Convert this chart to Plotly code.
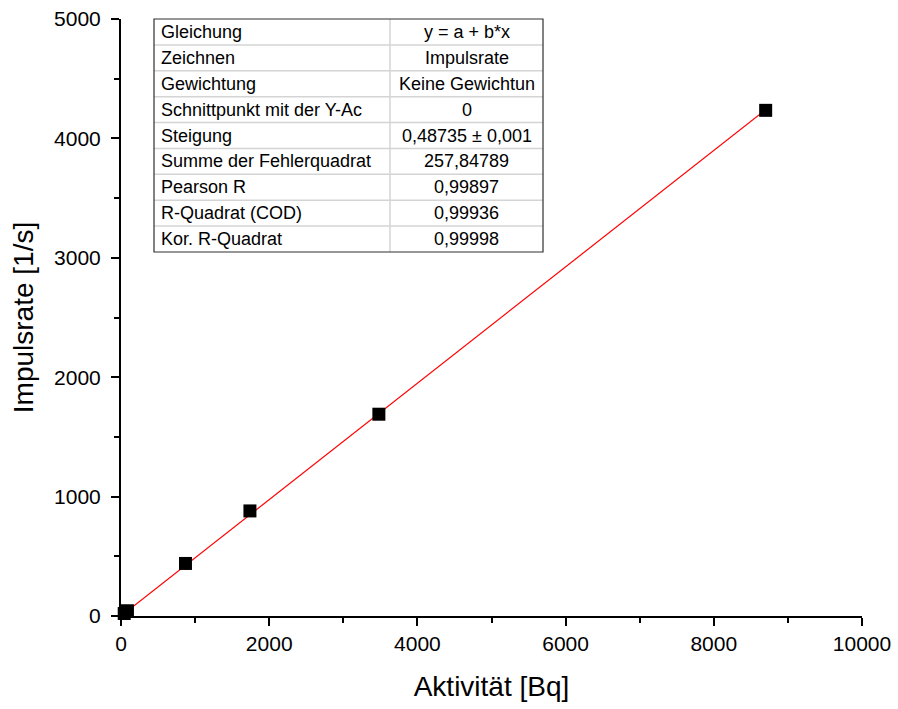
import plotly.graph_objects as go

# Data
activity = [43.5, 87, 870, 1740, 3480, 8700]          # Aktivität [Bq]
rate = [21, 44, 440, 880, 1690, 4235]                  # Impulsrate [1/s]
slope = 0.48735
fit_x = [0, 8700]
fit_y = [slope * v for v in fit_x]

table_labels = ["Gleichung", "Zeichnen", "Gewichtung", "Schnittpunkt mit der Y-Ac",
                "Steigung", "Summe der Fehlerquadrat", "Pearson R",
                "R-Quadrat (COD)", "Kor. R-Quadrat"]
table_values = ["y = a + b*x", "Impulsrate", "Keine Gewichtun", "0",
                "0,48735 ± 0,001", "257,84789", "0,99897", "0,99936", "0,99998"]

FONT = "Liberation Sans, Arial, sans-serif"

# Plot-area geometry (pixels) used to place the table in paper coordinates
L, R, T, B = 121, 862, 19, 616
W, H = R - L, B - T


def px(xp):
    return (xp - L) / W


def py(yp):
    return (B - yp) / H


fig = go.Figure()

fig.add_trace(go.Scatter(x=fit_x, y=fit_y, mode="lines",
                         line=dict(color="#ff0000", width=1.2),
                         showlegend=False, cliponaxis=False))
fig.add_trace(go.Scatter(x=activity, y=rate, mode="markers",
                         marker=dict(symbol="square", size=13, color="black",
                                     line=dict(width=0)),
                         showlegend=False, cliponaxis=False))

# Table (drawn with shapes and annotations)
tx0, tx1, tdiv = 154, 543, 390
ty0, ty1 = 19, 252
n = len(table_labels)
rh = (ty1 - ty0) / n
shapes = []
annotations = []
shapes.append(dict(type="rect", xref="paper", yref="paper",
                   x0=px(tx0), x1=px(tx1), y0=py(ty1), y1=py(ty0),
                   fillcolor="white", line=dict(width=0), layer="below"))
for i in range(1, n):
    yy = py(ty0 + i * rh)
    shapes.append(dict(type="line", xref="paper", yref="paper",
                       x0=px(tx0), x1=px(tx1), y0=yy, y1=yy,
                       line=dict(color="#d4d4d4", width=1.5)))
shapes.append(dict(type="line", xref="paper", yref="paper",
                   x0=px(tdiv), x1=px(tdiv), y0=py(ty1), y1=py(ty0),
                   line=dict(color="#d4d4d4", width=1.5)))
shapes.append(dict(type="rect", xref="paper", yref="paper",
                   x0=px(tx0), x1=px(tx1), y0=py(ty1), y1=py(ty0),
                   line=dict(color="#303030", width=1.2)))
for i, (lab, val) in enumerate(zip(table_labels, table_values)):
    yc = py(ty0 + (i + 0.5) * rh)
    annotations.append(dict(xref="paper", yref="paper", x=px(tx0 + 5), y=yc,
                            text=lab, showarrow=False, xanchor="left",
                            yanchor="middle",
                            font=dict(family=FONT, size=18, color="black")))
    annotations.append(dict(xref="paper", yref="paper", x=px((tdiv + tx1) / 2),
                            y=yc, text=val, showarrow=False, xanchor="center",
                            yanchor="middle",
                            font=dict(family=FONT, size=18, color="black")))

axis_common = dict(
    showline=True, linecolor="black", linewidth=2,
    ticks="outside", ticklen=8, tickwidth=2, tickcolor="black",
    showgrid=False, zeroline=False, mirror=False, automargin=False,
    exponentformat="none", separatethousands=False, tickformat="d",
    tickfont=dict(family=FONT, size=21, color="black"),
)

fig.update_xaxes(range=[0, 10000], dtick=2000, tick0=0,
                 ticklabelstandoff=0,
                 minor=dict(dtick=1000, ticks="outside", ticklen=5, tickwidth=2,
                            tickcolor="black", showgrid=False),
                 title=dict(text="Aktivität [Bq]", standoff=22,
                            font=dict(family=FONT, size=28, color="black")),
                 **axis_common)
fig.update_yaxes(range=[0, 5000], dtick=1000, tick0=0,
                 ticklabelstandoff=6,
                 minor=dict(dtick=500, ticks="outside", ticklen=5, tickwidth=2,
                            tickcolor="black", showgrid=False),
                 title=dict(text="Impulsrate [1/s]", standoff=12,
                            font=dict(family=FONT, size=28, color="black")),
                 **axis_common)

fig.update_layout(
    width=898, height=709,
    margin=dict(l=L, r=898 - R, t=T, b=709 - B, autoexpand=False),
    plot_bgcolor="white", paper_bgcolor="white",
    font=dict(family=FONT, color="black"),
    shapes=shapes, annotations=annotations,
)

fig.write_html("out.html")
